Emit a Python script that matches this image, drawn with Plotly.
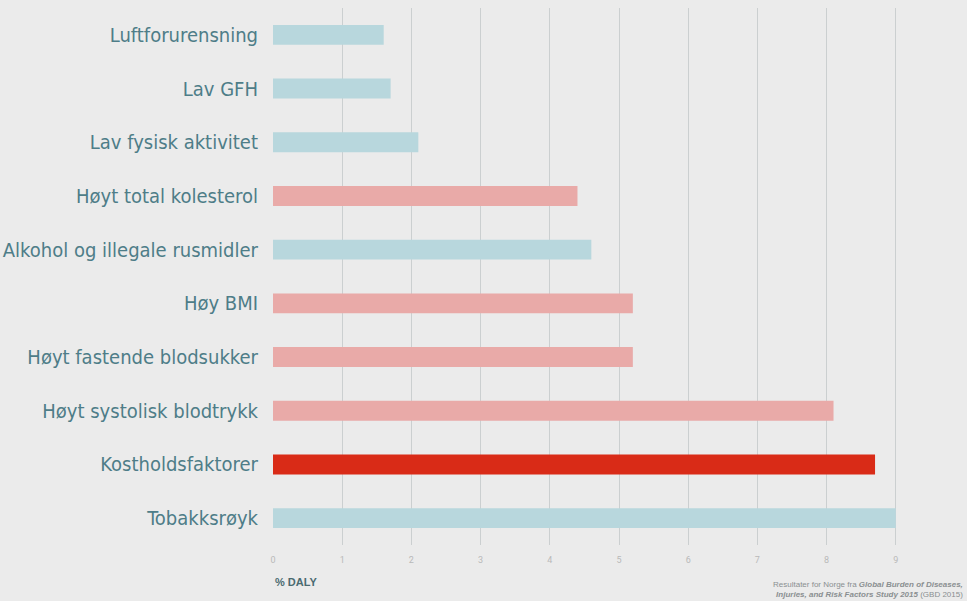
import plotly.graph_objects as go

# Risk factors, top to bottom as drawn
factors = [
    "Luftforurensning",
    "Lav GFH",
    "Lav fysisk aktivitet",
    "Høyt total kolesterol",
    "Alkohol og illegale rusmidler",
    "Høy BMI",
    "Høyt fastende blodsukker",
    "Høyt systolisk blodtrykk",
    "Kostholdsfaktorer",
    "Tobakksrøyk",
]
daly_pct = [1.6, 1.7, 2.1, 4.4, 4.6, 5.2, 5.2, 8.1, 8.7, 9.0]
# group: "other", "metabolic", "diet"
group = ["other", "other", "other", "metabolic", "other",
         "metabolic", "metabolic", "metabolic", "diet", "other"]
x_ticks = list(range(0, 11))

palette = {"other": "#b8d7dd", "metabolic": "#e9aaa8", "diet": "#d92b17"}
colors = [palette[g] for g in group]

label_font = "DejaVu Sans Condensed, Roboto, sans-serif"

fig = go.Figure(go.Bar(
    x=daly_pct,
    y=factors,
    orientation="h",
    marker=dict(color=colors, line=dict(width=0)),
    width=0.37,
))

fig.update_layout(
    width=967,
    height=601,
    margin=dict(l=273, r=2, t=8, b=56, autoexpand=False),
    paper_bgcolor="#ebebeb",
    plot_bgcolor="#ebebeb",
    showlegend=False,
    font=dict(family="Roboto, sans-serif"),
    xaxis=dict(
        range=[0, 10],
        tickvals=x_ticks,
        ticktext=[str(t) for t in x_ticks],
        showgrid=True,
        gridcolor="#cbcfd0",
        gridwidth=1,
        zeroline=False,
        showline=False,
        tickfont=dict(size=9, color="#b9b9b9"),
        ticks="",
        ticklabelstandoff=8,
        automargin=False,
    ),
    yaxis=dict(
        categoryorder="array",
        categoryarray=factors[::-1],
        autorange=True,
        showgrid=False,
        zeroline=False,
        showline=False,
        ticks="",
        ticklabelstandoff=14,
        automargin=False,
        tickfont=dict(size=20, color="#4e7d88", family=label_font),
    ),
    annotations=[
        dict(
            text="<b>% DALY</b>",
            xref="paper", yref="paper",
            x=0, y=-0.068, xanchor="left", yanchor="middle",
            showarrow=False,
            font=dict(size=11, color="#4a6a70", family="Liberation Sans, sans-serif"),
        ),
        dict(
            text="Resultater for Norge fra <b><i>Global Burden of Diseases,</i></b><br>"
                 "<b><i>Injuries, and Risk Factors Study 2015</i></b> (GBD 2015)",
            xref="paper", yref="paper",
            x=1.0, y=-0.082, xanchor="right", yanchor="middle",
            align="right",
            showarrow=False,
            font=dict(size=8, color="#8a8f91", family="Liberation Sans, sans-serif"),
        ),
    ],
)

fig.write_html("out.html")
